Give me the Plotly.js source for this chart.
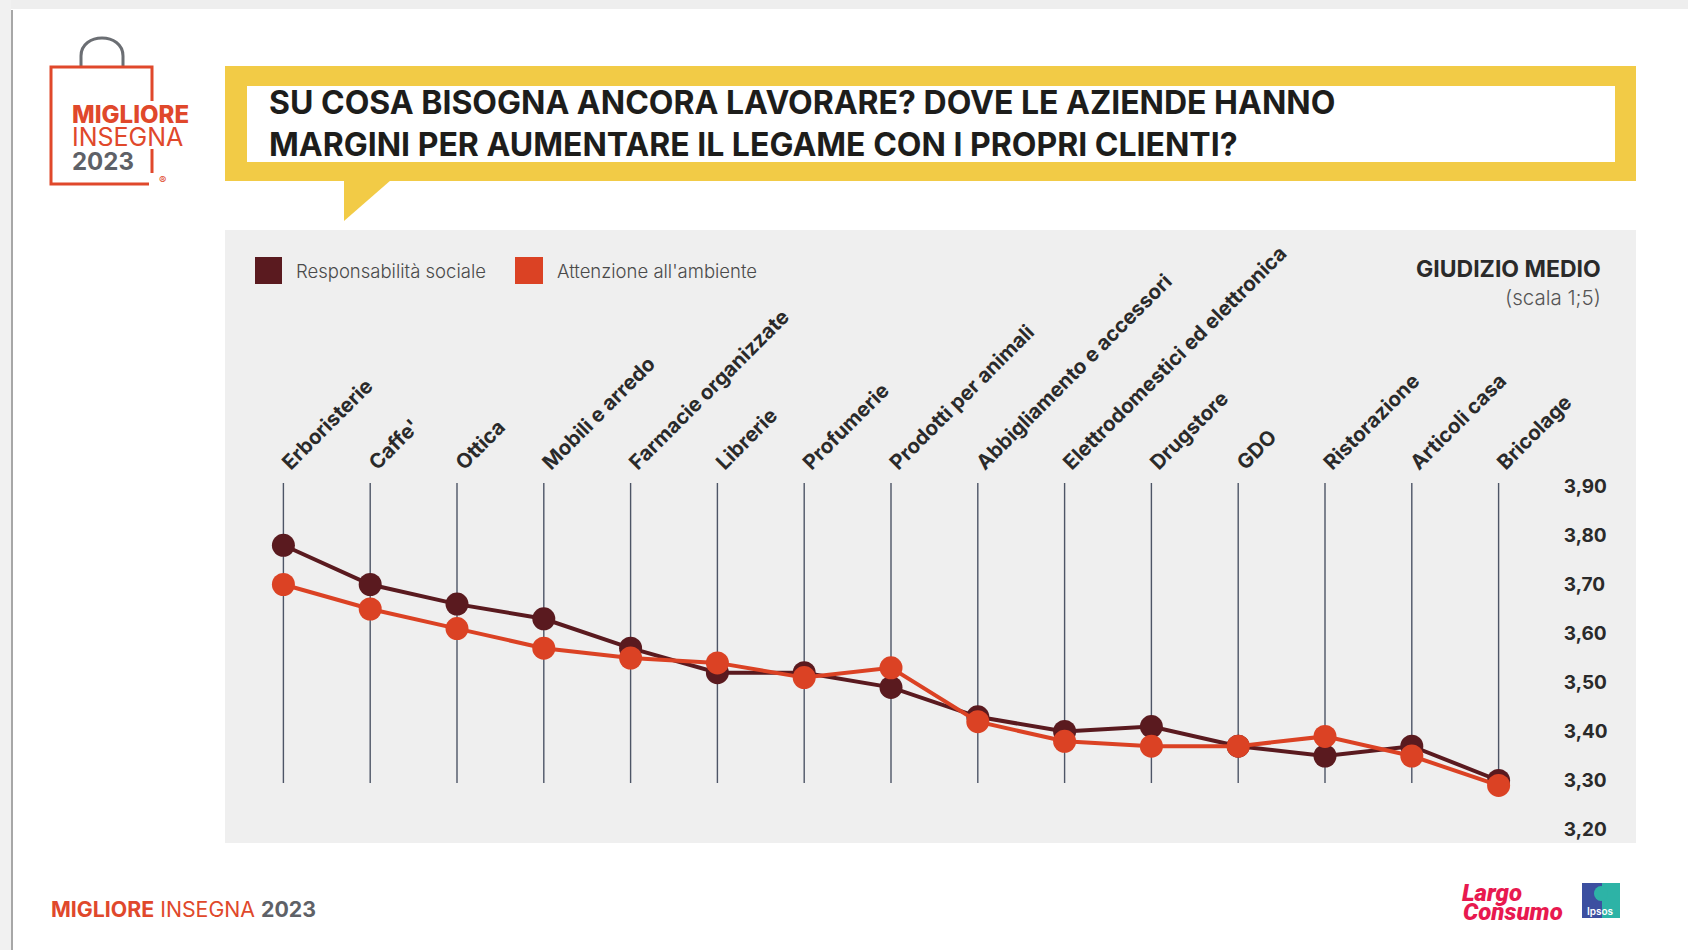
<!DOCTYPE html>
<html>
<head>
<meta charset="utf-8">
<script src="https://cdn.plot.ly/plotly-3.0.1.min.js"></script>
<style>
html,body{margin:0;padding:0;background:#fff;}
#chart{width:1688px;height:950px;}
</style>
</head>
<body>
<div id="chart"></div>
<script>
// ---- data ----
const categories = ["Erboristerie","Caffe'","Ottica","Mobili e arredo","Farmacie organizzate","Librerie","Profumerie","Prodotti per animali","Abbigliamento e accessori","Elettrodomestici ed elettronica","Drugstore","GDO","Ristorazione","Articoli casa","Bricolage"];
const seriesNames = ["Responsabilità sociale","Attenzione all'ambiente"];
const responsabilitaSociale = [3.78,3.70,3.66,3.63,3.57,3.52,3.52,3.49,3.43,3.40,3.41,3.37,3.35,3.37,3.30];
const attenzioneAmbiente = [3.70,3.65,3.61,3.57,3.55,3.54,3.51,3.53,3.42,3.38,3.37,3.37,3.39,3.35,3.29];
const titleLines = ["SU COSA BISOGNA ANCORA LAVORARE? DOVE LE AZIENDE HANNO","MARGINI PER AUMENTARE IL LEGAME CON I PROPRI CLIENTI?"];
const axisTitle = "GIUDIZIO MEDIO";
const axisSubtitle = "(scala 1;5)";
const yTickVals = [3.2,3.3,3.4,3.5,3.6,3.7,3.8,3.9];

// ---- geometry helpers ----
const L=240, W=1302, T=483, H=357;
const px = X => (X-L)/W;
const py = Y => (T+H-Y)/H;

const DARK="#5a1a1f", ORANGE="#db4224", YELLOW="#f2cb46", RED="#e0482b", GREY="#5e6167";
const FONT="Inter, 'Open Sans', sans-serif";

const traces = [
  {x:categories, y:responsabilitaSociale, name:seriesNames[0], type:'scatter', mode:'lines+markers',
   line:{color:DARK,width:4}, marker:{color:DARK,size:23}, hoverinfo:'skip', cliponaxis:false},
  {x:categories, y:attenzioneAmbiente, name:seriesNames[1], type:'scatter', mode:'lines+markers',
   line:{color:ORANGE,width:4}, marker:{color:ORANGE,size:23}, hoverinfo:'skip', cliponaxis:false}
];

const shapes = [];
const P = (o)=>Object.assign({xref:'paper',yref:'paper',line:{width:0}},o);
// page frame
shapes.push(P({type:'rect',x0:px(0),x1:px(1688),y0:py(0),y1:py(9),fillcolor:'#eeeeee',layer:'below'}));
shapes.push(P({type:'rect',x0:px(0),x1:px(11),y0:py(0),y1:py(950),fillcolor:'#f1f1f1',layer:'below'}));
shapes.push(P({type:'line',x0:px(12),x1:px(12),y0:py(10),y1:py(950),line:{color:'#8a8a8a',width:1.5}}));
// yellow title box + tail
shapes.push(P({type:'rect',x0:px(225),x1:px(1636),y0:py(66),y1:py(181),fillcolor:YELLOW,layer:'below'}));
shapes.push(P({type:'path',path:`M ${px(344)} ${py(180)} L ${px(391)} ${py(180)} L ${px(344)} ${py(221)} Z`,fillcolor:YELLOW,layer:'below'}));
shapes.push(P({type:'rect',x0:px(247),x1:px(1615),y0:py(86),y1:py(162),fillcolor:'#ffffff',layer:'below'}));
// grey chart panel
shapes.push(P({type:'rect',x0:px(225),x1:px(1636),y0:py(230),y1:py(843),fillcolor:'#efefef',layer:'below'}));
// legend squares
shapes.push(P({type:'rect',x0:px(255),x1:px(282),y0:py(257),y1:py(284),fillcolor:DARK}));
shapes.push(P({type:'rect',x0:px(515),x1:px(543),y0:py(257),y1:py(284),fillcolor:ORANGE}));
// logo bag
shapes.push(P({type:'path',path:`M ${px(81)} ${py(66)} L ${px(81)} ${py(56)} C ${px(81)} ${py(32)} ${px(123)} ${py(32)} ${px(123)} ${py(56)} L ${px(123)} ${py(66)}`,line:{color:'#6b6e73',width:3}}));
shapes.push(P({type:'path',path:`M ${px(152)} ${py(101)} L ${px(152)} ${py(67)} L ${px(51)} ${py(67)} L ${px(51)} ${py(184)} L ${px(149)} ${py(184)}`,line:{color:RED,width:3}}));
shapes.push(P({type:'line',x0:px(152),x1:px(152),y0:py(149),y1:py(173),line:{color:RED,width:3}}));
// ipsos logo
shapes.push(P({type:'rect',x0:px(1582),x1:px(1620),y0:py(883),y1:py(918),fillcolor:'#3c4fa0'}));
shapes.push(P({type:'rect',x0:px(1602),x1:px(1620),y0:py(883),y1:py(918),fillcolor:'#2db3a6'}));
shapes.push(P({type:'circle',x0:px(1594),x1:px(1608),y0:py(886),y1:py(901),fillcolor:'#2db3a6'}));
// vertical category lines
categories.forEach(c=>shapes.push({type:'line',xref:'x',yref:'y',x0:c,x1:c,y0:3.295,y1:3.907,line:{color:'#4d5566',width:1.4},layer:'below'}));

const annotations = [];
const A = (o)=>Object.assign({xref:'paper',yref:'paper',showarrow:false,xanchor:'left',yanchor:'middle'},o);
annotations.push(A({x:px(267),y:py(123),text:titleLines.join('<br>'),align:'left',font:{family:FONT,size:32,color:'#1d1d1b',weight:700}}));
annotations.push(A({x:px(294),y:py(271),text:seriesNames[0],font:{family:FONT,size:18.5,color:'#4a4a4a',weight:300}}));
annotations.push(A({x:px(555),y:py(271),text:seriesNames[1],font:{family:FONT,size:18.5,color:'#4a4a4a',weight:300}}));
annotations.push(A({x:px(1603),y:py(269),xanchor:'right',text:axisTitle,font:{family:FONT,size:23,color:'#2a2a2a',weight:700}}));
annotations.push(A({x:px(1603),y:py(297),xanchor:'right',text:axisSubtitle,font:{family:FONT,size:20.5,color:'#555',weight:300}}));
// logo text
annotations.push(A({x:px(70),y:py(114),text:'MIGLIORE',font:{family:FONT,size:24,color:RED,weight:800}}));
annotations.push(A({x:px(70),y:py(137),text:'INSEGNA',font:{family:FONT,size:25,color:RED,weight:400}}));
annotations.push(A({x:px(70),y:py(161),text:'2023',font:{family:FONT,size:24,color:GREY,weight:700}}));
annotations.push(A({x:px(162),y:py(180),xanchor:'center',text:'®',font:{family:FONT,size:11,color:RED}}));
// footer
annotations.push(A({x:px(49),y:py(909),text:`<b>MIGLIORE</b> INSEGNA <span style="color:${GREY}"><b>2023</b></span>`,font:{family:FONT,size:21.3,color:RED}}));
annotations.push(A({x:px(1460),y:py(893),text:'<i>Largo</i>',font:{family:'Roboto',size:24,color:'#e8194f',weight:900}}));
annotations.push(A({x:px(1461),y:py(912),text:'<i>Consumo</i>',font:{family:'Roboto',size:24,color:'#e8194f',weight:900}}));
annotations.push(A({x:px(1601),y:py(911),xanchor:'center',text:'Ipsos',font:{family:FONT,size:10,color:'#ffffff',weight:600}}));

const layout = {
  width:1688, height:950,
  margin:{l:L, r:1688-L-W, t:T, b:950-T-H, pad:0},
  paper_bgcolor:'#ffffff', plot_bgcolor:'rgba(0,0,0,0)',
  showlegend:false,
  separators:',.',
  xaxis:{type:'category', side:'top', range:[-0.5,categories.length-0.5], tickangle:-45,
         showgrid:false, zeroline:false, showline:false, ticks:'', automargin:false, ticklabelstandoff:4,
         tickfont:{family:FONT,size:20.5,color:'#2a2a2a',weight:700}},
  yaxis:{side:'right', range:[3.17857,3.90714], tickvals:yTickVals, tickformat:'.2f',
         showgrid:false, zeroline:false, showline:false, ticks:'outside', ticklen:17, tickcolor:'rgba(0,0,0,0)',
         automargin:false, tickfont:{family:FONT,size:19,color:'#2a2a2a',weight:700}},
  shapes, annotations
};
Plotly.newPlot('chart', traces, layout, {staticPlot:true, displayModeBar:false});
</script>
</body>
</html>
